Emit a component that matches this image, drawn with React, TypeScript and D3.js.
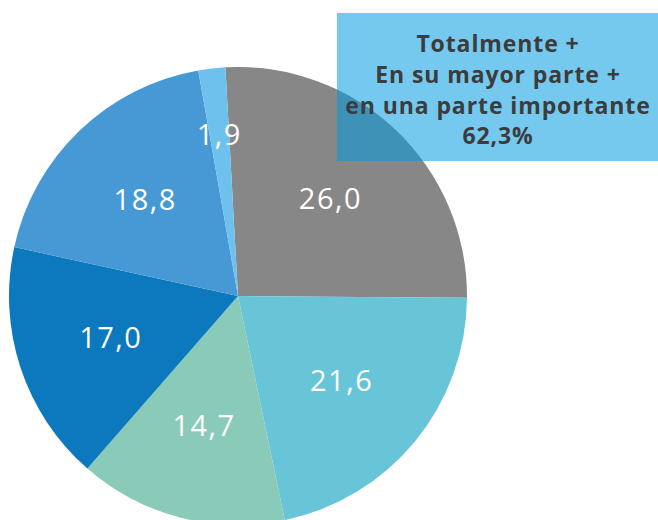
import { useRef, useEffect } from 'react';
import * as d3 from 'd3';

const labels = ['26,0', '21,6', '14,7', '17,0', '18,8', '1,9'];
const values = [26.0, 21.6, 14.7, 17.0, 18.8, 1.9];
const colors = ['#878787', '#68c5d8', '#8acab8', '#0c78bd', '#4699d4', '#6ec1ec'];
const boxLines = ['Totalmente +', 'En su mayor parte +', 'en una parte importante', '62,3%'];

export default function App() {
  const svgRef = useRef<SVGSVGElement>(null);
  const width = 658;
  const height = 520;

  useEffect(() => {
    const svg = d3.select(svgRef.current);
    svg.selectAll('*').remove();

    const cx = 238;
    const cy = 296;
    const radius = 229;
    const start = -0.055;

    const pie = d3
      .pie<number>()
      .sort(null)
      .startAngle(start)
      .endAngle(start + Math.PI * 2)
      .value((d) => d);

    const arcs = pie(values);
    const arc = d3.arc<d3.PieArcDatum<number>>().innerRadius(0).outerRadius(radius);

    const g = svg.append('g').attr('transform', `translate(${cx},${cy})`);

    g.selectAll('path')
      .data(arcs)
      .join('path')
      .attr('d', arc)
      .attr('fill', (d, i) => colors[i]);

    // labels sit around 60% of the radius, the thin slice a bit further out
    g.selectAll('text')
      .data(arcs)
      .join('text')
      .attr('transform', (d, i) => {
        const r = i === 5 ? 163 : 134;
        const a = (d.startAngle + d.endAngle) / 2;
        return `translate(${Math.sin(a) * r},${-Math.cos(a) * r})`;
      })
      .attr('text-anchor', 'middle')
      .attr('dy', '0.36em')
      .attr('fill', '#fff')
      .attr('font-family', '"Open Sans", sans-serif')
      .attr('font-size', '29px')
      .attr('font-weight', 500)
      .attr('letter-spacing', '1.5px')
      .text((d, i) => labels[i]);

    // summary box on top
    svg
      .append('rect')
      .attr('x', 337)
      .attr('y', 13)
      .attr('width', 321)
      .attr('height', 148)
      .attr('fill', 'rgb(0,153,224)')
      .attr('fill-opacity', 0.54);

    svg
      .append('g')
      .selectAll('text')
      .data(boxLines)
      .join('text')
      .attr('x', 498)
      .attr('y', (d, i) => 44 + i * 30.7)
      .attr('dy', '0.36em')
      .attr('text-anchor', 'middle')
      .attr('fill', '#3c3c3c')
      .attr('font-family', '"Open Sans", sans-serif')
      .attr('font-weight', 700)
      .attr('font-size', '23px')
      .attr('letter-spacing', '0.9px')
      .text((d) => d);
  }, []);

  return (
    <div>
      <svg
        ref={svgRef}
        width={width}
        height={height}
        style={{ position: 'absolute', left: 0, top: 0, display: 'block' }}
      />
    </div>
  );
}
